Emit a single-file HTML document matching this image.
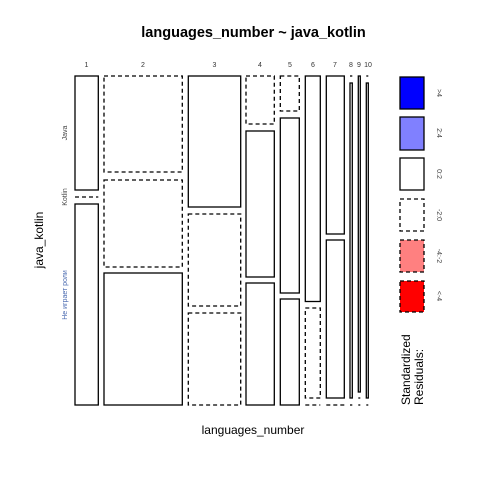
<!DOCTYPE html>
<html><head><style>html,body{margin:0;padding:0;background:#fff}svg{display:block}</style></head>
<body>
<svg width="480" height="480" xmlns="http://www.w3.org/2000/svg" font-family="Liberation Sans, sans-serif">
<rect width="480" height="480" fill="#fff"/>
<text x="253.5" y="37" font-size="14.5" font-weight="bold" text-anchor="middle">languages_number ~ java_kotlin</text>
<g font-size="7" text-anchor="middle" fill="#333">
<text x="86.5" y="67">1</text><text x="143" y="67">2</text><text x="214.5" y="67">3</text><text x="260" y="67">4</text><text x="290" y="67">5</text><text x="313" y="67">6</text><text x="335" y="67">7</text><text x="351" y="67">8</text><text x="359" y="67">9</text><text x="368" y="67">10</text>
</g>
<g font-size="7" text-anchor="middle" fill="#444">
<text transform="translate(67,133) rotate(-90)">Java</text>
<text transform="translate(67,197) rotate(-90)">Kotlin</text>
<text transform="translate(67,295) rotate(-90)" fill="#4a6ab0">Не играет роли</text>
</g>
<text transform="translate(43,240) rotate(-90)" font-size="12" text-anchor="middle">java_kotlin</text>
<text x="253" y="434" font-size="12" text-anchor="middle">languages_number</text>
<g fill="none" stroke="#000" stroke-width="1.3">
<rect x="75" y="76" width="23.3" height="114"/>
<line x1="75" y1="197" x2="98.3" y2="197" stroke-dasharray="4,3"/>
<rect x="75" y="204" width="23.3" height="201"/>
<rect x="104" y="76" width="78.3" height="96" stroke-dasharray="4,3"/>
<rect x="104" y="180" width="78.3" height="87" stroke-dasharray="4,3"/>
<rect x="104" y="273" width="78.3" height="132"/>
<rect x="188.3" y="76" width="52.4" height="131"/>
<rect x="188.3" y="214" width="52.4" height="92" stroke-dasharray="4,3"/>
<rect x="188.3" y="313" width="52.4" height="92" stroke-dasharray="4,3"/>
<rect x="246" y="76" width="28.3" height="48" stroke-dasharray="4,3"/>
<rect x="246" y="131" width="28.3" height="146"/>
<rect x="246" y="283" width="28.3" height="122"/>
<rect x="280.3" y="76" width="19" height="35" stroke-dasharray="4,3"/>
<rect x="280.3" y="118" width="19" height="175"/>
<rect x="280.3" y="299" width="19" height="106"/>
<rect x="305.3" y="76" width="15" height="225.5"/>
<rect x="305.3" y="308" width="15" height="90" stroke-dasharray="4,3"/>
<line x1="305.3" y1="405" x2="320.3" y2="405" stroke-dasharray="4,3"/>
<rect x="326.3" y="76" width="18" height="158"/>
<rect x="326.3" y="240" width="18" height="158"/>
<line x1="326.3" y1="405" x2="344.3" y2="405" stroke-dasharray="4,3"/>
<line x1="350" y1="76" x2="352.3" y2="76"/>
<rect x="350" y="83" width="2.3" height="315"/>
<line x1="350" y1="405" x2="352.3" y2="405"/>
<rect x="358.3" y="76" width="2" height="316"/>
<line x1="358.3" y1="398" x2="360.3" y2="398"/>
<line x1="358.3" y1="405" x2="360.3" y2="405"/>
<line x1="366.3" y1="76" x2="368.3" y2="76"/>
<rect x="366.3" y="83" width="2" height="315"/>
<line x1="366.3" y1="405" x2="368.3" y2="405"/>
</g>
<g stroke="#000" stroke-width="1.3">
<rect x="400" y="77" width="24" height="32" fill="#0000ff"/>
<rect x="400" y="117" width="24" height="33" fill="#8080ff"/>
<rect x="400" y="158" width="24" height="32" fill="#fff"/>
<rect x="400" y="199" width="24" height="32" fill="#fff" stroke-dasharray="4,3"/>
<rect x="400" y="240" width="24" height="32" fill="#ff8080" stroke-dasharray="4,3"/>
<rect x="400" y="281" width="24" height="31" fill="#ff0000" stroke-dasharray="4,3"/>
</g>
<g font-size="7" text-anchor="middle" fill="#444">
<text transform="translate(437,93) rotate(90)">&gt;4</text>
<text transform="translate(437,133) rotate(90)">2:4</text>
<text transform="translate(437,174) rotate(90)">0:2</text>
<text transform="translate(437,215) rotate(90)">-2:0</text>
<text transform="translate(437,256) rotate(90)">-4:-2</text>
<text transform="translate(437,296) rotate(90)">&lt;-4</text>
</g>
<g font-size="12">
<text transform="translate(410,405) rotate(-90)">Standardized</text>
<text transform="translate(423,405) rotate(-90)">Residuals:</text>
</g>
</svg>
</body></html>
